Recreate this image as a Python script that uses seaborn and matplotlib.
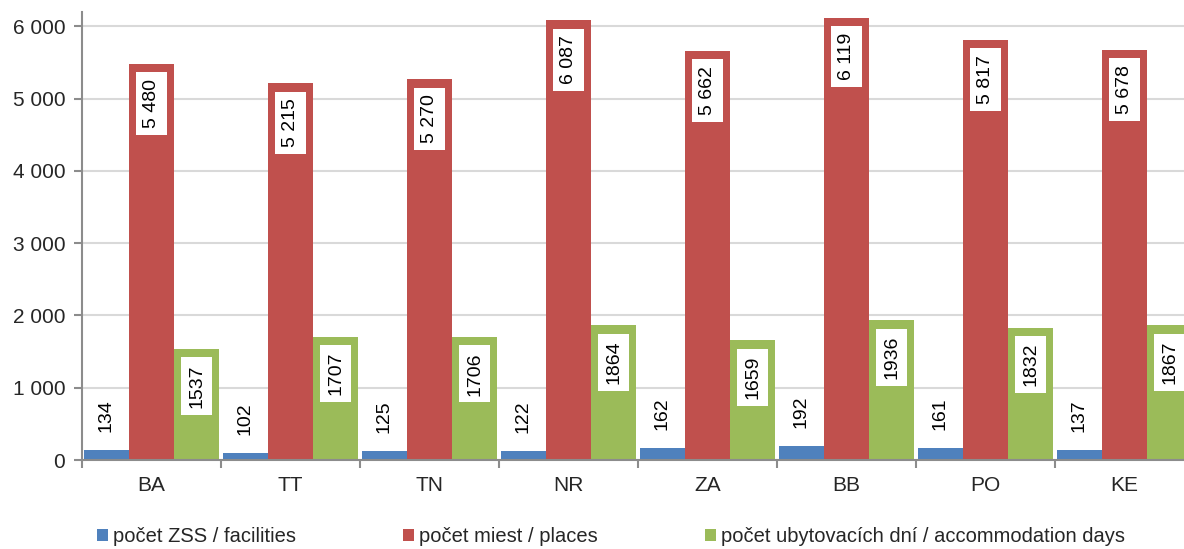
"""
Social service facilities by region: facilities, places, accommodation days.
Saves: out.png
"""

import matplotlib
matplotlib.use('Agg')
import matplotlib.pyplot as plt
from matplotlib.ticker import FuncFormatter, FixedLocator
import pandas as pd
import seaborn as sns

# =============================================================================
# DATA
# =============================================================================

REGIONS = ['BA', 'TT', 'TN', 'NR', 'ZA', 'BB', 'PO', 'KE']
SERIES = [
    'počet ZSS / facilities',
    'počet miest / places',
    'počet ubytovacích dní / accommodation days',
]
FACILITIES = [134, 102, 125, 122, 162, 192, 161, 137]
PLACES = [5480, 5215, 5270, 6087, 5662, 6119, 5817, 5678]
ACCOM_DAYS = [1537, 1707, 1706, 1864, 1659, 1936, 1832, 1867]
Y_TICKS = [0, 1000, 2000, 3000, 4000, 5000, 6000]

COLORS = ['#4f81bd', '#c0504d', '#9bbb59']


def space_thousands(v):
    return f'{int(v):,}'.replace(',', ' ')


# =============================================================================
# PLOT
# =============================================================================

def main():
    df = pd.DataFrame({
        'region': REGIONS * 3,
        'series': [SERIES[0]] * 8 + [SERIES[1]] * 8 + [SERIES[2]] * 8,
        'value': FACILITIES + PLACES + ACCOM_DAYS,
    })

    sns.set_style('white')
    plt.rcParams['font.family'] = ['Liberation Sans', 'DejaVu Sans']

    fig = plt.figure(figsize=(11.84, 5.49), dpi=100)
    ax = fig.add_axes([82 / 1184, 89 / 549, 1102 / 1184, 448 / 549])

    sns.barplot(
        data=df, x='region', y='value', hue='series', order=REGIONS,
        hue_order=SERIES, palette=COLORS, width=0.975, gap=0,
        saturation=1, linewidth=0, ax=ax, zorder=2,
    )

    # labels: facilities above the bar, others boxed inside the top
    label_fmt = [lambda v: f'{int(v)}', space_thousands, lambda v: f'{int(v)}']
    for i, container in enumerate(ax.containers):
        for bar in container:
            h = bar.get_height()
            x = bar.get_x() + bar.get_width() / 2
            txt = label_fmt[i](h)
            if i == 0:
                ax.annotate(txt, (x, h), xytext=(0, 13), textcoords='offset points',
                            ha='center', va='bottom', rotation=90, fontsize=14,
                            color='black', zorder=4)
            else:
                ax.annotate(txt, (x, h), xytext=(0, -11), textcoords='offset points',
                            ha='center', va='top', rotation=90, fontsize=14,
                            color='black', zorder=4,
                            bbox=dict(boxstyle='square,pad=0.35', fc='white', ec='none'))

    ax.set_xlim(-0.5, -0.5 + 1102 / 139)
    ax.set_ylim(0, 6200)
    ax.yaxis.set_major_locator(FixedLocator(Y_TICKS))
    ax.yaxis.set_major_formatter(FuncFormatter(lambda v, _: space_thousands(v)))
    ax.xaxis.set_minor_locator(FixedLocator([k - 0.5 for k in range(len(REGIONS) + 1)]))

    ax.grid(axis='y', color='#d9d9d9', linewidth=1.5, zorder=0)
    ax.set_axisbelow(True)
    ax.set_xlabel('')
    ax.set_ylabel('')

    for side in ('top', 'right'):
        ax.spines[side].set_visible(False)
    for side in ('left', 'bottom'):
        ax.spines[side].set_color('#8c8c8c')
        ax.spines[side].set_linewidth(1.5)

    ax.tick_params(axis='y', which='major', left=True, length=6, width=1.5,
                   color='#8c8c8c', labelsize=15, pad=6)
    ax.tick_params(axis='x', which='major', bottom=False, labelsize=15, pad=8)
    ax.tick_params(axis='x', which='minor', bottom=True, length=6, width=1.5,
                   color='#8c8c8c')

    handles, labels = ax.get_legend_handles_labels()
    ax.get_legend().remove()
    fig.legend(handles, labels, loc='center', bbox_to_anchor=(0.516, 1 - 537 / 549),
               ncol=3, frameon=False, fontsize=14.5, handlelength=0.55,
               handleheight=0.55, handletextpad=0.25, columnspacing=5.3)

    fig.savefig('out.png', dpi=100)
    plt.close(fig)


if __name__ == '__main__':
    main()
